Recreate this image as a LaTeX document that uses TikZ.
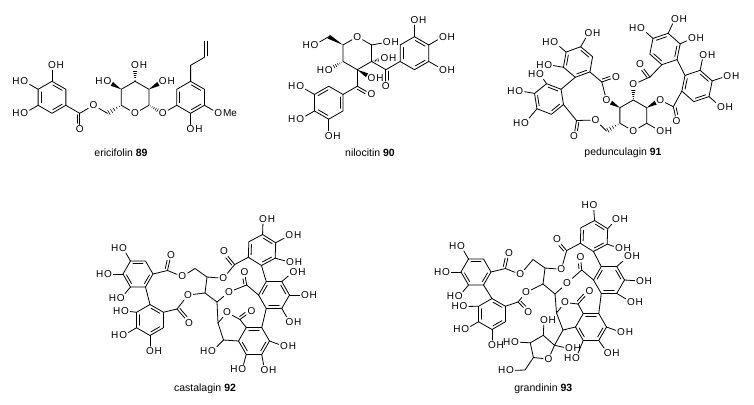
\documentclass[tikz,border=0pt]{standalone}
\usepackage{fontspec}
\setmainfont{Liberation Sans}
\newfontfamily\arialf{Liberation Sans}
\usetikzlibrary{calc}
\newcommand\atomfont{\arialf\fontsize{10}{12}\selectfont}
\newcommand\capfont{\arialf\fontsize{10.5}{12.5}\selectfont}
\tikzset{
 atom/.style={inner sep=1pt,font=\atomfont},
 hatom/.style={inner sep=0pt,font=\atomfont},
 captext/.style={inner sep=0pt,font=\capfont},
}
\newcommand\hexring[4]{\coordinate (#1c) at (#2);\foreach \hk in {1,...,6}{\coordinate (#1\hk) at ($(#1c)+({#3+60*(\hk-1)}:#4)$);}}
\newcommand\hexdraw[1]{\draw (#11)--(#12)--(#13)--(#14)--(#15)--(#16)--cycle;}
\newcommand\inl[3]{\draw[shorten <=1pt,shorten >=1pt] ($(#1#2)!0.2!(#1c)$) -- ($(#1#3)!0.2!(#1c)$);}
\newcommand\kek[1]{\inl{#1}{1}{2}\inl{#1}{3}{4}\inl{#1}{5}{6}}
\newcommand\kekb[1]{\inl{#1}{2}{3}\inl{#1}{4}{5}\inl{#1}{6}{1}}
\newcommand\Ol[2]{\node[atom] (#1) at (#2) {O};}
\newcommand\OH[2]{\node[atom] (#1) at (#2) {O};\node[hatom,anchor=base west] at ([xshift=-1pt]#1.base east) {H};}
\newcommand\HO[2]{\node[atom] (#1) at (#2) {O};\node[hatom,anchor=base east] at ([xshift=1pt]#1.base west) {H};}
\newcommand\dbo[3]{\draw (#1) -- (#2);\draw[shorten >=6pt,shorten <=1.5pt] ($(#1)!2.6pt!#3:(#2)$) -- ($(#2)!2.6pt!-#3:(#1)$);}
\newcommand\hashw[3]{\foreach \hi in {1,...,5}{\pgfmathsetmacro\hf{(\hi-0.3)/5*#3}\pgfmathsetlengthmacro\hw{\hf*2.8pt}\path ($(#1)!\hf!(#2)$) coordinate (hwtmp);\draw[line width=0.55pt] ($(hwtmp)!\hw!90:(#1)$) -- ($(hwtmp)!\hw!-90:(#1)$);}}
\newcommand\boldw[3]{\path ($(#1)!#3!(#2)$) coordinate (bwtmp);\fill (#1) -- ($(bwtmp)!2.2pt!90:(#1)$) -- ($(bwtmp)!2.2pt!-90:(#1)$) -- cycle;}
\begin{document}
\begin{tikzpicture}[x=1pt,y=-1pt,line width=0.8pt,line cap=round,line join=round]
\useasboundingbox[fill=white] (0,0) rectangle (754,404);
% ================= ericifolin 89
\hexring{eG}{52,97.3}{-90}{16}
\hexdraw{eG}\kek{eG}
\OH{eg1o}{$(eG1)+(-90:16)$}\draw (eG1)--(eg1o);
\HO{eg6o}{$(eG6)+(210:16)$}\draw (eG6)--(eg6o);
\HO{eg5o}{$(eG5)+(150:16)$}\draw (eG5)--(eg5o);
\coordinate (eC7) at ($(eG3)+(30:16)$);
\Ol{ec7o}{$(eC7)+(90:16)$}
\Ol{eoe}{$(eC7)+(-30:16)$}
\coordinate (eC8) at ($(eoe)+(30:16)$);
\draw (eG3)--(eC7)--(eoe)--(eC8);
\dbo{eC7}{ec7o}{270}
\hexring{eS}{135.1,97.3}{-90}{16}
\Ol{eso}{eS4}
\draw (eS3)--(eso)--(eS5)--(eS6)--(eS1)--(eS2)--(eS3);
\hashw{eS5}{eC8}{0.95}
\HO{es6o}{$(eS6)+(210:16)$}\boldw{eS6}{es6o}{0.68}
\OH{es1o}{$(eS1)+(-90:16)$}\hashw{eS1}{es1o}{0.66}
\OH{es2o}{$(eS2)+(-30:16)$}\boldw{eS2}{es2o}{0.68}
\Ol{eog}{$(eS3)+(30:16)$}\hashw{eS3}{eog}{0.66}
\hexring{eA}{190.6,97.3}{-90}{16}
\hexdraw{eA}\kek{eA}
\draw (eog)--(eA5);
\coordinate (ea1) at ($(eA1)+(-90:16)$);
\coordinate (ea2) at ($(ea1)+(-30:16)$);
\coordinate (ea3) at ($(ea2)+(-90:16)$);
\draw (eA1)--(ea1)--(ea2)--(ea3);
\draw[shorten <=1.5pt] ($(ea2)!2.7pt!-90:(ea3)$) -- ($(ea3)!2.7pt!90:(ea2)$);
\node[atom] (eome) at ($(eA3)+(30:16)$) {O};
\node[hatom,anchor=base west] at ([xshift=-1pt]eome.base east) {Me};
\draw (eA3)--(eome);
\OH{ea4o}{$(eA4)+(90:16)$}\draw (eA4)--(ea4o);
\node[captext] at (121,152.5) {ericifolin \textbf{89}};
% ================= nilocitin 90
\hexring{nS}{357.3,53.2}{-90}{16.5}
\Ol{nso}{nS1}
\draw (nS2)--(nS3)--(nS4)--(nS5)--(nS6)--(nso)--(nS2);
\coordinate (nC6) at ($(nS6)+(210:16.5)$);
\boldw{nS6}{nC6}{1}
\HO{n6o}{$(nC6)+(150:16.5)$}\draw (nC6)--(n6o);
\HO{n4o}{$(nS5)+(150:16.5)$}\hashw{nS5}{n4o}{0.66}
\OH{n1o}{$(nS2)+(-10:15.5)$}\draw (nS2)--(n1o);
\OH{n2o}{384.5,58.5}\hashw{nS3}{n2o}{0.55}
\OH{n3o}{$(nS4)+(30:16.5)$}\boldw{nS4}{n3o}{0.68}
\coordinate (nK1) at ($(nS4)+(90:16.5)$);
\Ol{nk1o}{$(nK1)+(30:16.5)$}
\draw (nS4)--(nK1);\dbo{nK1}{nk1o}{270}
\hexring{nB}{$(nK1)+(150:33)$}{-90}{16.5}
\hexdraw{nB}\kekb{nB}
\draw (nK1)--(nB2);
\HO{nb6o}{$(nB6)+(210:16.5)$}\draw (nB6)--(nb6o);
\HO{nb5o}{$(nB5)+(150:16.5)$}\draw (nB5)--(nb5o);
\OH{nb4o}{$(nB4)+(90:16.5)$}\draw (nB4)--(nb4o);
\coordinate (nK2) at ($(nS3)+(30:16.5)$);
\Ol{nk2o}{$(nK2)+(90:16.5)$}
\draw (nS3)--(nK2);\dbo{nK2}{nk2o}{90}
\hexring{nD}{$(nK2)+(-30:33)$}{-90}{16.5}
\hexdraw{nD}\kek{nD}
\draw (nK2)--(nD5);
\OH{nd1o}{$(nD1)+(-90:16.5)$}\draw (nD1)--(nd1o);
\OH{nd2o}{$(nD2)+(-30:16.5)$}\draw (nD2)--(nd2o);
\OH{nd3o}{$(nD3)+(30:16.5)$}\draw (nD3)--(nd3o);
\node[captext] at (370,152.5) {nilocitin \textbf{90}};
% ================= pedunculagin 91
\hexring{pS}{633.3,115.5}{-90}{15.5}
\Ol{pso}{pS4}
\draw (pS3)--(pso)--(pS5)--(pS6)--(pS1)--(pS2)--(pS3);
\Ol{po3}{$(pS1)+(-90:15.5)$}\hashw{pS1}{po3}{0.66}
\Ol{po4}{$(pS6)+(210:15.5)$}\boldw{pS6}{po4}{0.66}
\Ol{po2}{$(pS2)+(-30:15.5)$}\boldw{pS2}{po2}{0.66}
\OH{po1}{$(pS3)+(30:15.5)$}\draw (pS3)--(po1);
\coordinate (pC6) at ($(pS5)+(150:15.5)$);
\hashw{pS5}{pC6}{0.95}
\Ol{po6}{$(pC6)+(225:15.5)$}\draw (pC6)--(po6);
\hexring{pP}{578,62}{-80}{15.5}\hexdraw{pP}\kek{pP}
\OH{pp1o}{$(pP1)+(-60:15.5)$}\draw (pP1)--(pp1o);
\HO{pp6o}{$(pP6)+(220:15.5)$}\draw (pP6)--(pp6o);
\HO{pp5o}{$(pP5)+(190:15.5)$}\draw (pP5)--(pp5o);
\coordinate (pCa) at (601.8,82);
\Ol{pOa}{616,77}
\draw (pP3)--(pCa)--(po4);\dbo{pCa}{pOa}{90}
\hexring{pQ}{549,99}{-39}{15.5}\hexdraw{pQ}\kekb{pQ}
\draw (pP4)--(pQ1);
\HO{pq6o}{540,74.5}\draw (pQ6)--(pq6o);
\HO{pq5o}{$(pQ5)+(190:15.5)$}\draw (pQ5)--(pq5o);
\HO{pq4o}{525,123}\draw (pQ4)--(pq4o);
\coordinate (pCq) at (576.5,120.5);
\Ol{pOq}{574,136}
\draw (pQ2)--(pCq)--(po6);\dbo{pCq}{pOq}{90}
\hexring{pR}{665,49}{-138.6}{16}\hexdraw{pR}\kek{pR}
\HO{pr1o}{$(pR1)+(-138.6:16)$}\draw (pR1)--(pr1o);
\OH{pr2o}{$(pR2)+(-65:16)$}\draw (pR2)--(pr2o);
\OH{pr3o}{$(pR3)+(-25:13)$}\draw (pR3)--(pr3o);
\coordinate (pCr) at (650,77);
\Ol{pOr}{640,64}
\draw (pR5)--(pCr)--(po3);\dbo{pCr}{pOr}{90}
\hexring{pV}{697,86}{-78.6}{16}\hexdraw{pV}\kek{pV}
\draw (pR4)--(pV6);
\OH{pv1o}{$(pV1)+(-78.6:16)$}\draw (pV1)--(pv1o);
\OH{pv2o}{$(pV2)+(-18.6:16)$}\draw (pV2)--(pv2o);
\OH{pv3o}{$(pV3)+(41.4:16)$}\draw (pV3)--(pv3o);
\coordinate (pCs) at (673.3,106.7);
\Ol{pOs}{676.5,121}
\draw (pV5)--(pCs)--(po2);\dbo{pCs}{pOs}{90}
\node[captext] at (623,152.5) {pedunculagin \textbf{91}};
% ================= castalagin 92
\hexring{cA}{138,274}{180}{15}\hexdraw{cA}\kekb{cA}
\HO{ca1o}{$(cA1)+(180:15)$}\draw (cA1)--(ca1o);
\HO{ca2o}{$(cA2)+(240:15)$}\draw (cA2)--(ca2o);
\HO{ca6o}{$(cA6)+(130:15)$}\draw (cA6)--(ca6o);
\coordinate (cCA) at (167.5,270.5);
\Ol{cOA}{171,255}\Ol{co6}{182.3,276.5}
\draw (cA4)--(cCA)--(co6);\dbo{cCA}{cOA}{90}
\hexring{cB}{150,320}{-90}{15.5}\hexdraw{cB}\kek{cB}
\draw (cA5)--(cB1);
\HO{cb6o}{125,311}\draw (cB6)--(cb6o);
\HO{cb5o}{$(cB5)+(150:15.5)$}\draw (cB5)--(cb5o);
\OH{cb4o}{$(cB4)+(90:15.5)$}\draw (cB4)--(cb4o);
\coordinate (cCB) at (177,309);
\Ol{co4}{188,295}\Ol{cOB}{189,323}
\draw (cB2)--(cCB)--(co4);\dbo{cCB}{cOB}{90}
\coordinate (cC6) at (195,268.5);\coordinate (cC5) at (207,277);
\coordinate (cC4) at (205,293);\coordinate (cC3) at (217,302);
\coordinate (cC2) at (218,323);\coordinate (cC1) at (223.5,340);
\Ol{co5}{223.3,278.3}\Ol{co3}{229,292}\Ol{co2}{227,312.5}
\draw (co6)--(cC6)--(cC5)--(cC4)--(cC3)--(cC2)--(cC1);
\draw (cC5)--(co5);\draw (cC4)--(co4);\draw (cC3)--(co3);\draw (cC2)--(co2);
\HO{co1}{212,351.5}\draw (cC1)--(co1);
\hexring{cT}{262,250}{-88}{15.5}\hexdraw{cT}\kek{cT}
\OH{ct1o}{$(cT1)+(-88:15.5)$}\draw (cT1)--(ct1o);
\OH{ct2o}{$(cT2)+(-28:15.5)$}\draw (cT2)--(ct2o);
\OH{ct3o}{$(cT3)+(15:15.5)$}\draw (cT3)--(ct3o);
\coordinate (cCT) at ($(cT5)+(152:15.5)$);
\Ol{cOT}{224,251.5}
\draw (cT5)--(cCT)--(co5);\dbo{cCT}{cOT}{90}
\hexring{cU}{274,295}{-60}{15.5}\hexdraw{cU}\kek{cU}
\draw (cT4)--(cU6);
\OH{cu1o}{$(cU1)+(-40:15.5)$}\draw (cU1)--(cu1o);
\OH{cu2o}{$(cU2)+(0:15.5)$}\draw (cU2)--(cu2o);
\OH{cu3o}{$(cU3)+(60:15.5)$}\draw (cU3)--(cu3o);
\coordinate (cCU) at (246.7,285);
\Ol{cOU}{244.5,272.5}
\draw (cU5)--(cCU)--(co3);\dbo{cCU}{cOU}{90}
\hexring{cV}{254,341}{0}{15.5}\hexdraw{cV}\kek{cV}
\draw (cU4)--(cV6);
\OH{cv1o}{$(cV1)+(20:15.5)$}\draw (cV1)--(cv1o);
\OH{cv2o}{$(cV2)+(80:15.5)$}\draw (cV2)--(cv2o);
\HO{cv3o}{$(cV3)+(105:15.5)$}\draw (cV3)--(cv3o);
\coordinate (cCL) at (240,319.5);
\Ol{cOL}{251.5,311}
\draw (cV5)--(cCL)--(co2);\dbo{cCL}{cOL}{90}
\draw (cV4)--(cC1);
\node[captext] at (205,388.3) {castalagin \textbf{92}};
% ================= grandinin 93
\hexring{gA}{476,272}{180}{15}\hexdraw{gA}\kekb{gA}
\HO{ga1o}{$(gA1)+(180:15)$}\draw (gA1)--(ga1o);
\HO{ga2o}{$(gA2)+(240:15)$}\draw (gA2)--(ga2o);
\HO{ga6o}{$(gA6)+(130:15)$}\draw (gA6)--(ga6o);
\coordinate (gCA) at (505.5,268.5);
\Ol{gOA}{509,253}\Ol{go6}{520.3,274.5}
\draw (gA4)--(gCA)--(go6);\dbo{gCA}{gOA}{90}
\hexring{gB}{492,314}{-90}{15.5}\hexdraw{gB}\kek{gB}
\draw (gA5)--(gB1);
\HO{gb6o}{463.5,306.5}\draw (gB6)--(gb6o);
\HO{gb5o}{$(gB5)+(150:15.5)$}\draw (gB5)--(gb5o);
\OH{gb4o}{$(gB4)+(90:15.5)$}\draw (gB4)--(gb4o);
\coordinate (gCB) at (518,302);
\Ol{go4}{526,292.5}\Ol{gOB}{528.3,312.5}
\draw (gB2)--(gCB)--(go4);\dbo{gCB}{gOB}{90}
\coordinate (gC6) at (533,259.5);\coordinate (gC5) at (545,268);
\coordinate (gC4) at (543,284);\coordinate (gC3) at (555,294);
\coordinate (gC2) at (556.5,313);\coordinate (gC1) at (563,330);
\Ol{go5}{561.3,269.3}\Ol{go3}{567,283}\Ol{go2}{565,302.5}
\draw (go6)--(gC6)--(gC5)--(gC4)--(gC3)--(gC2)--(gC1);
\draw (gC5)--(go5);\draw (gC4)--(go4);\draw (gC3)--(go3);\draw (gC2)--(go2);
\hexring{gT}{594,236}{-88}{15.5}\hexdraw{gT}\kek{gT}
\HO{gt1o}{593.5,205.5}\draw (gT1)--(gt1o);
\OH{gt2o}{616,219.5}\draw (gT2)--(gt2o);
\OH{gt3o}{619,248}\draw (gT3)--(gt3o);
\coordinate (gCT) at ($(gT5)+(152:15.5)$);
\Ol{gOT}{557,239.5}
\draw (gT5)--(gCT)--(go5);\dbo{gCT}{gOT}{90}
\hexring{gU}{609,280}{-60}{15.5}\hexdraw{gU}\kek{gU}
\draw (gT4)--(gU6);
\OH{gu1o}{628,256.5}\draw (gU1)--(gu1o);
\OH{gu2o}{640,281}\draw (gU2)--(gu2o);
\OH{gu3o}{631,302}\draw (gU3)--(gu3o);
\coordinate (gCU) at (581.7,270);
\Ol{gOU}{580.5,257.5}
\draw (gU5)--(gCU)--(go3);\dbo{gCU}{gOU}{90}
\hexring{gV}{591,327}{0}{15.5}\hexdraw{gV}\kek{gV}
\draw (gU4)--(gV6);
\OH{gv1o}{$(gV1)+(20:15.5)$}\draw (gV1)--(gv1o);
\OH{gv2o}{$(gV2)+(55:15.5)$}\draw (gV2)--(gv2o);
\HO{gv3o}{576,358}\draw (gV3)--(gv3o);
\coordinate (gCL) at (578,304);
\Ol{gOL}{589.5,291.5}
\draw (gV5)--(gCL)--(go2);\dbo{gCL}{gOL}{90}
\draw (gV4)--(gC1);
\coordinate (gL1) at (554.5,345.3);\coordinate (gL2) at (543.3,335.3);
\coordinate (gL3) at (530.3,342.8);\coordinate (gL4) at (533.4,357.5);
\Ol{glo}{548.4,359.1}
\draw (gC1)--(gL1)--(gL2)--(gL3)--(gL4)--(glo)--(gL1);
\OH{gl2o}{544,320}\draw (gL2)--(gl2o);
\HO{gl3o}{515,342}\draw (gL3)--(gl3o);
\coordinate (gL5) at (525,370);\draw (gL4)--(gL5);
\HO{gl5o}{510,370.5}\draw (gL5)--(gl5o);
\OH{gl1o}{569,348.5}\draw (gL1)--(gl1o);
\node[captext] at (543.3,388.3) {grandinin \textbf{93}};
\end{tikzpicture}
\end{document}
